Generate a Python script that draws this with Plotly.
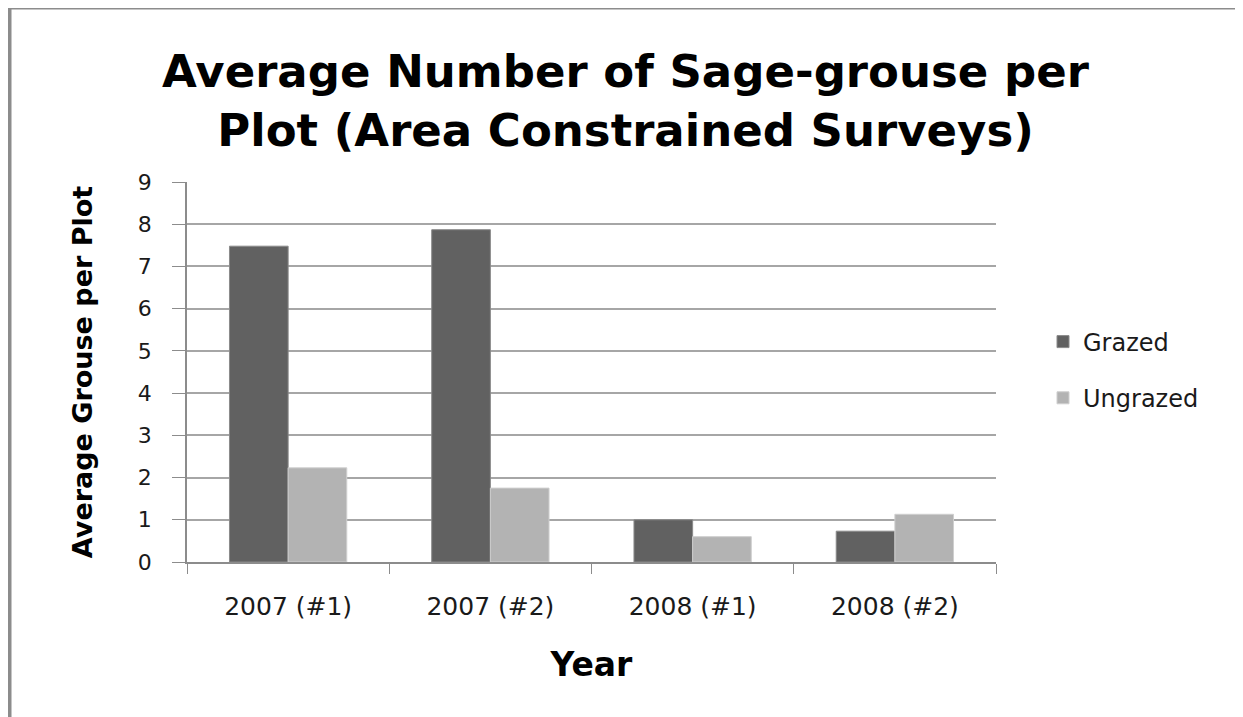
import plotly.graph_objects as go

# Data
surveys = ["2007 (#1)", "2007 (#2)", "2008 (#1)", "2008 (#2)"]
grazed = [7.48, 7.87, 1.0, 0.73]
ungrazed = [2.23, 1.75, 0.6, 1.13]
y_ticks = list(range(0, 10))

GRAZED_COLOR = "#616161"
UNGRAZED_COLOR = "#b3b3b3"
GRID_COLOR = "#a6a6a6"
AXIS_COLOR = "#8c8c8c"
FONT = "DejaVu Sans"

fig = go.Figure()
fig.add_trace(
    go.Bar(
        x=surveys,
        y=grazed,
        name="Grazed",
        legendgroup="grazed",
        marker={"color": GRAZED_COLOR, "line": {"color": "#8a8a8a", "width": 1}},
    )
)
fig.add_trace(
    go.Bar(
        x=surveys,
        y=ungrazed,
        name="Ungrazed",
        legendgroup="ungrazed",
        marker={"color": UNGRAZED_COLOR, "line": {"color": "#cfcfcf", "width": 1}},
    )
)

# MARK: Geometry (page sits 8px in from the window corner)
W, H = 1235, 709
L, R, T, B = 179, 247, 174, 155
pw, ph = W - L - R, H - T - B


def px_x(p):
    return (p - L) / pw


def px_y(p):
    return (H - B - p) / ph


# MARK: Frame around the whole chart (left and top edges are visible)
fig.add_shape(
    type="line", xref="paper", yref="paper",
    x0=px_x(1.5), x1=px_x(1.5), y0=px_y(0), y1=px_y(H + 5),
    line={"color": AXIS_COLOR, "width": 4},
)
fig.add_shape(
    type="line", xref="paper", yref="paper",
    x0=px_x(0), x1=px_x(W + 5), y0=px_y(0.5), y1=px_y(0.5),
    line={"color": AXIS_COLOR, "width": 2},
)

fig.update_layout(
    width=W,
    height=H,
    margin={"l": L, "r": R, "t": T, "b": B},
    plot_bgcolor="white",
    paper_bgcolor="white",
    barmode="group",
    bargap=0.42,
    bargroupgap=0,
    font={"family": FONT, "color": "#1a1a1a"},
    title={
        "text": "<b>Average Number of Sage-grouse per<br>Plot (Area Constrained Surveys)</b>",
        "font": {"family": FONT, "size": 45, "color": "black"},
        "x": 0.5,
        "xref": "container",
        "xanchor": "center",
        "y": 1 - 79 / H,
        "yanchor": "middle",
    },
    legend={
        "x": px_x(1035),
        "y": px_y(362),
        "xanchor": "left",
        "yanchor": "middle",
        "font": {"family": FONT, "size": 24, "color": "#1a1a1a"},
        "itemwidth": 30,
        "tracegroupgap": 22,
        "traceorder": "grouped",
    },
    xaxis={
        "title": {
            "text": "<b>Year</b>",
            "font": {"family": FONT, "size": 33, "color": "black"},
            "standoff": 33,
        },
        "tickson": "boundaries",
        "ticks": "outside",
        "ticklen": 10,
        "tickcolor": AXIS_COLOR,
        "tickfont": {"size": 25},
        "ticklabelstandoff": 21,
        "showline": True,
        "linecolor": AXIS_COLOR,
        "linewidth": 1.5,
        "showgrid": False,
    },
    yaxis={
        "title": {
            "text": "<b>Average Grouse per Plot</b>",
            "font": {"family": FONT, "size": 27, "color": "black"},
            "standoff": 37,
        },
        "range": [0, 9],
        "tickvals": y_ticks,
        "ticks": "outside",
        "ticklen": 13,
        "tickcolor": AXIS_COLOR,
        "tickfont": {"size": 22},
        "ticklabelstandoff": 16,
        "showline": True,
        "linecolor": AXIS_COLOR,
        "linewidth": 1.5,
        "showgrid": True,
        "gridcolor": GRID_COLOR,
        "gridwidth": 1.5,
        "zeroline": False,
    },
)

fig.write_html("out.html")
